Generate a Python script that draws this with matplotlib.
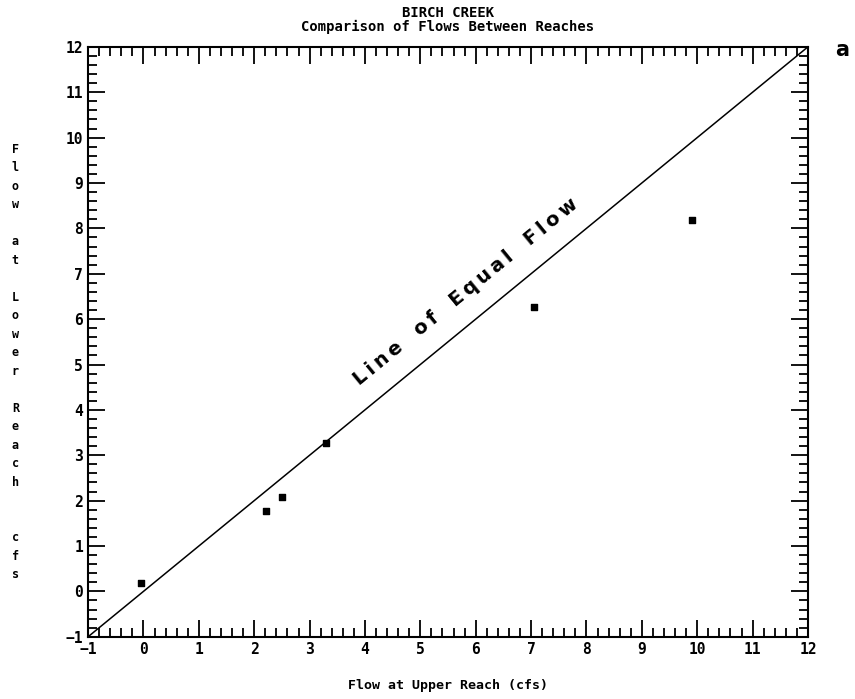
import matplotlib
matplotlib.use("Agg")
import matplotlib.pyplot as plt
from matplotlib.ticker import MultipleLocator

# flows (cfs)
upper_flow = [-0.05, 2.22, 2.51, 3.29, 7.05, 9.9]
lower_flow = [0.19, 1.78, 2.07, 3.28, 6.26, 8.18]
equal_line = [-1, 12]

title = "BIRCH CREEK\nComparison of Flows Between Reaches"
xlabel = "Flow at Upper Reach (cfs)"
ylabel = "Flow at Lower Reach  cfs"
line_label = "Line of Equal Flow"

mono = "DejaVu Sans Mono"

fig = plt.figure(figsize=(8.55, 6.99), dpi=100)
ax = fig.add_axes([0.103, 0.089, 0.842, 0.844])

ax.plot(equal_line, equal_line, color="black", lw=1.1)
ax.scatter(upper_flow, lower_flow, marker="s", s=22, color="black", zorder=3)

ax.set_xlim(-1, 12)
ax.set_ylim(-1, 12)
ax.xaxis.set_major_locator(MultipleLocator(1))
ax.yaxis.set_major_locator(MultipleLocator(1))
ax.xaxis.set_minor_locator(MultipleLocator(0.2))
ax.yaxis.set_minor_locator(MultipleLocator(0.2))
ax.tick_params(which="both", direction="in", top=True, right=True, width=1.3)
ax.tick_params(which="major", length=12, labelsize=10.5)
ax.tick_params(which="minor", length=6.5)
for lab in ax.get_xticklabels() + ax.get_yticklabels():
    lab.set_fontfamily(mono)
    lab.set_fontweight("bold")
for sp in ax.spines.values():
    sp.set_linewidth(1.5)

# wide letter spacing like the original lettering
spaced = "   ".join("\u2009".join(w) for w in line_label.split(" "))
ax.text(5.82, 6.6, spaced, rotation=39.3, ha="center", va="center",
        fontsize=14, fontweight="bold", family="DejaVu Sans")

fig.text(0.524, 0.991, title, ha="center", va="top", fontsize=10,
         family=mono, fontweight="bold", linespacing=0.95)
fig.text(0.524, 0.02, xlabel, ha="center", va="center", fontsize=9.5,
         family=mono, fontweight="bold")
fig.text(0.018, 0.482, "\n".join(ylabel), ha="center", va="center", fontsize=8.5,
         family=mono, fontweight="bold", linespacing=1.55)
fig.text(0.985, 0.928, "a", ha="center", va="center", fontsize=15,
         family="DejaVu Sans", fontweight="bold")

fig.savefig("out.png", dpi=100)
